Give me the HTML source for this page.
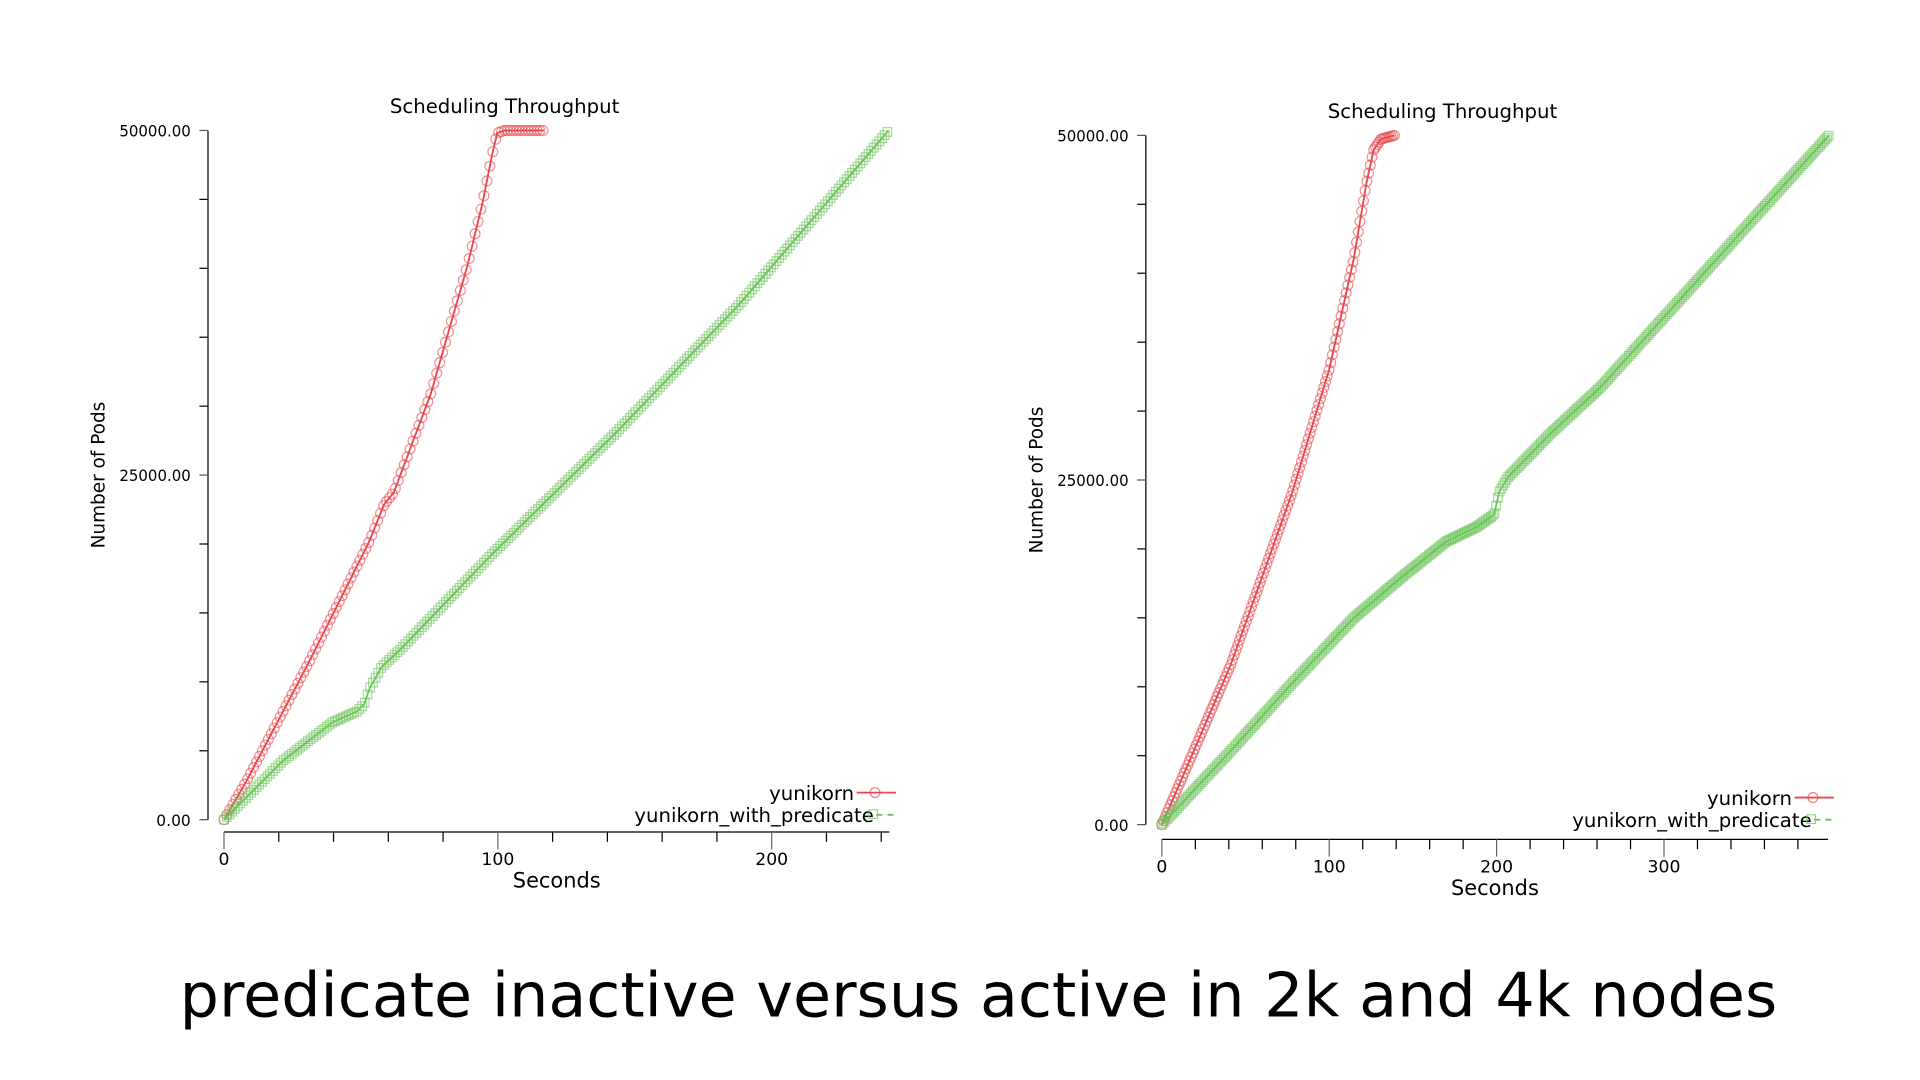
<!DOCTYPE html>
<html><head><meta charset="utf-8"><style>
html,body{margin:0;padding:0;background:#fff;width:1920px;height:1080px;overflow:hidden}
svg{display:block}
text{font-family:"DejaVu Sans","Liberation Sans",sans-serif;fill:#000}
</style></head><body>
<svg id="s" width="1920" height="1080" viewBox="0 0 1560 877.5" preserveAspectRatio="none" xmlns="http://www.w3.org/2000/svg">
<g id="g"></g>
<text x="795" y="826" font-size="50" text-anchor="middle" textLength="1298" lengthAdjust="spacingAndGlyphs">predicate inactive versus active in 2k and 4k nodes</text>
</svg>
<script>
const NS="http://www.w3.org/2000/svg",G=document.getElementById('g');
function el(t,a,txt){const e=document.createElementNS(NS,t);for(const k in a)e.setAttribute(k,a[k]);if(txt!==undefined)e.textContent=txt;G.appendChild(e);return e;}
const RED="#e8474f",GREEN="#6cc35a";
function interp(pts,x){for(let i=0;i<pts.length-1;i++){const a=pts[i],b=pts[i+1];if(x>=a[0]&&x<=b[0]){return a[1]+(b[1]-a[1])*(x-a[0])/(b[0]-a[0]||1);}}return pts[pts.length-1][1];}
function series(pts,step,col,shape){
  const x0=pts[0][0],x1=pts[pts.length-1][0];let ps=[];
  for(let x=x0;x<=x1+0.01;x+=step){ps.push([x,interp(pts,x)]);}
  el('polyline',{points:pts.map(p=>p.join(',')).join(' '),fill:'none',stroke:col,'stroke-width':1.5});
  const g=document.createElementNS(NS,'g');g.setAttribute('fill','none');g.setAttribute('stroke',col);g.setAttribute('stroke-opacity','0.6');g.setAttribute('stroke-width','1');G.appendChild(g);
  for(const p of ps){let e;if(shape=='c'){e=document.createElementNS(NS,'circle');e.setAttribute('cx',p[0]);e.setAttribute('cy',p[1]);e.setAttribute('r',4);}
  else{e=document.createElementNS(NS,'rect');e.setAttribute('x',p[0]-3.5);e.setAttribute('y',p[1]-3.5);e.setAttribute('width',7);e.setAttribute('height',7);}g.appendChild(e);}
}
function plot(o){
  const {ax,top,bot,xa,x0,pxs,xmax,tx}=o;
  el('text',{x:tx,y:top-14,'font-size':16,'text-anchor':'middle'},'Scheduling Throughput');
  el('line',{x1:ax,y1:top,x2:ax,y2:bot,stroke:'#000','stroke-width':1});
  for(let i=0;i<=10;i++){const y=top+(bot-top)*i/10;el('line',{x1:ax-7,y1:y,x2:ax,y2:y,stroke:(i%5==0)?'#555':'#000','stroke-width':1});}
  [['50000.00',top],['25000.00',(top+bot)/2],['0.00',bot]].forEach(l=>el('text',{x:ax-14,y:l[1]+5,'font-size':13,'text-anchor':'end',textLength:l[0].length>5?58:28,lengthAdjust:'spacingAndGlyphs'},l[0]));
  el('text',{transform:`translate(${ax-84},${(top+bot)/2}) rotate(-90)`,'font-size':15,'text-anchor':'middle'},'Number of Pods');
  const xend=x0+xmax*pxs;
  el('line',{x1:x0,y1:xa,x2:xend,y2:xa,stroke:'#000','stroke-width':1});
  for(let s=0;s<=xmax;s+=20){const x=x0+s*pxs;el('line',{x1:x,y1:xa,x2:x,y2:xa+(s%100==0?14:8),stroke:(s%100==0)?'#666':'#000','stroke-width':1});
    if(s%100==0)el('text',{x:x,y:xa+27,'font-size':14,'text-anchor':'middle'},String(s));}
  el('text',{x:(x0+xend)/2,y:xa+45,'font-size':17,'text-anchor':'middle'},'Seconds');
  const lx=o.lx;
  el('text',{x:lx-2,y:bot-16,'font-size':16,'text-anchor':'end'},'yunikorn');
  el('line',{x1:lx,y1:bot-22,x2:lx+32,y2:bot-22,stroke:RED,'stroke-width':1.5});
  el('circle',{cx:lx+15,cy:bot-22,r:4,fill:'none',stroke:RED,'stroke-opacity':0.7});
  el('text',{x:lx+14,y:bot+2,'font-size':16,'text-anchor':'end'},'yunikorn_with_predicate');
  el('line',{x1:lx+16,y1:bot-4,x2:lx+32,y2:bot-4,stroke:GREEN,'stroke-width':1.5,'stroke-dasharray':'5,4'});
  el('rect',{x:lx+10,y:bot-8,width:7,height:7,fill:'none',stroke:GREEN,'stroke-opacity':0.7});
}
plot({ax:169,top:106,bot:666,xa:676,x0:182,pxs:2.225,xmax:243,tx:410,lx:696});
plot({ax:931,top:110,bot:670,xa:682,x0:944,pxs:1.36,xmax:398,tx:1172,lx:1458});
series([[182,666],[200,635],[250,540],[300,440],[312,410],[320,400],[350,320],[380,215],[392,165],[400,125],[404,108],[410,106],[442,106]],2.4,RED,'c');
series([[182,666],[230,618],[270,587],[290,578],[296,572],[300,560],[310,542],[325,528],[400,450],[500,352],[600,248],[722,106]],2.2,GREEN,'s');
series([[944,670],[970,610],[1000,540],[1050,400],[1080,300],[1100,210],[1110,150],[1116,122],[1122,113],[1133,110]],1.4,RED,'c');
series([[944,670],[1000,610],[1050,555],[1100,502],[1140,468],[1175,440],[1200,428],[1214,418],[1218,400],[1225,388],[1260,352],[1300,315],[1486,110]],1.4,GREEN,'s');
</script>
</body></html>
